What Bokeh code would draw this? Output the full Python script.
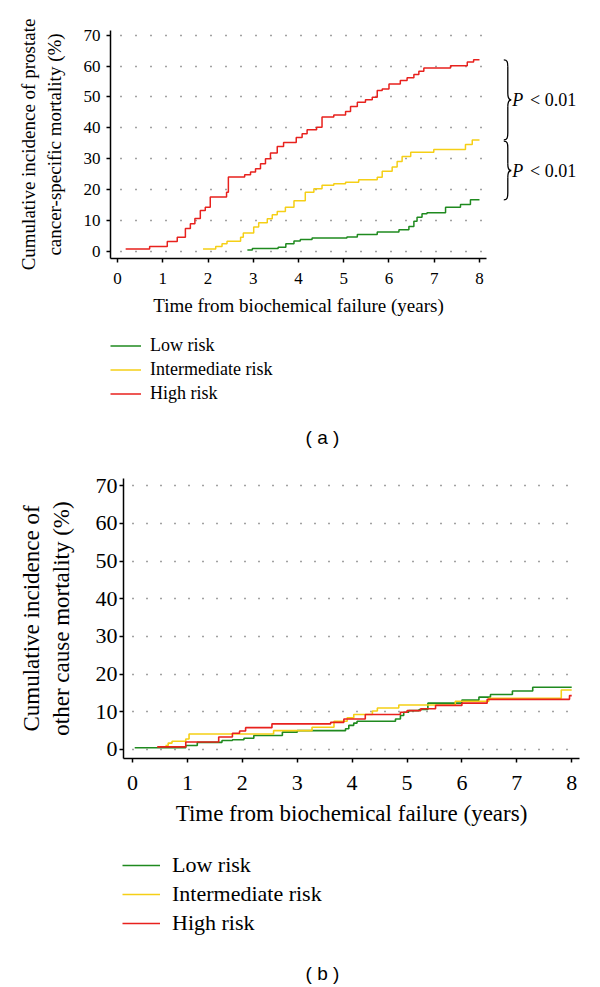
from bokeh.plotting import figure
from bokeh.layouts import column, row
from bokeh.models import Legend, LegendItem, Label, FixedTicker, Range1d
from bokeh.embed import file_html
from bokeh.resources import INLINE

# ---------------- data ----------------
followup_end = 8.0
x_ticks = [0, 1, 2, 3, 4, 5, 6, 7, 8]
y_ticks = [0, 10, 20, 30, 40, 50, 60, 70]
series_names = ["Low risk", "Intermediate risk", "High risk"]
series_colors = ["#1f8a1f", "#f5cf16", "#e8211d"]

# Panel (a): prostate cancer-specific mortality (%), step times (years) and values
a_low_t = [2.87, 2.98, 3.55, 3.72, 3.90, 4.04, 4.30, 5.07, 5.30, 5.74, 6.22, 6.44, 6.55, 6.62, 6.73, 6.84, 7.25, 7.58, 7.80]
a_low_v = [0.5, 1.0, 1.4, 2.5, 3.4, 3.9, 4.4, 4.7, 5.5, 6.3, 7.0, 8.1, 9.8, 11.1, 12.2, 12.5, 14.3, 15.2, 16.7]
a_int_t = [1.89, 2.17, 2.31, 2.42, 2.72, 2.78, 3.01, 3.12, 3.31, 3.42, 3.53, 3.71, 3.90, 4.15, 4.34, 4.52, 4.78, 5.04, 5.33, 5.74, 5.85, 6.07, 6.18, 6.29, 6.48, 6.99, 7.69, 7.84]
a_int_v = [0.8, 1.6, 2.5, 3.3, 4.6, 6.0, 7.9, 9.3, 10.6, 11.9, 12.9, 14.3, 16.4, 19.2, 20.3, 21.4, 21.9, 22.4, 23.2, 24.0, 26.0, 27.3, 29.1, 30.7, 32.1, 33.0, 34.6, 36.1]
a_high_t = [0.18, 0.71, 1.10, 1.32, 1.50, 1.61, 1.71, 1.83, 1.94, 2.05, 2.41, 2.45, 2.81, 2.94, 3.05, 3.16, 3.27, 3.38, 3.53, 3.67, 3.95, 4.08, 4.19, 4.40, 4.52, 4.78, 5.04, 5.15, 5.30, 5.48, 5.63, 5.74, 5.85, 6.00, 6.25, 6.40, 6.55, 6.66, 6.77, 7.36, 7.73, 7.87]
a_high_v = [0.8, 1.6, 3.2, 4.6, 7.4, 9.0, 10.7, 13.3, 14.3, 17.6, 19.2, 24.1, 24.8, 25.7, 26.8, 28.4, 30.0, 31.9, 34.0, 35.3, 36.9, 38.1, 39.4, 40.2, 43.5, 44.2, 45.3, 46.9, 48.3, 49.1, 49.9, 52.1, 52.6, 54.2, 55.3, 56.2, 57.3, 58.3, 59.4, 60.1, 61.3, 62.0]

# Panel (b): other cause mortality (%)
b_low_t = [0.04, 0.97, 1.18, 1.63, 1.82, 2.03, 2.21, 2.73, 3.00, 3.88, 3.94, 4.03, 4.09, 4.79, 4.88, 4.94, 5.03, 5.22, 5.38, 6.00, 6.31, 6.52, 6.92, 7.29]
b_low_v = [0.45, 1.06, 1.9, 2.4, 2.6, 3.0, 3.7, 4.6, 5.0, 5.5, 6.4, 7.0, 7.5, 8.1, 9.0, 9.9, 10.3, 10.6, 12.3, 13.1, 13.9, 14.6, 15.5, 16.5]
b_int_t = [0.60, 0.65, 0.72, 0.97, 1.03, 2.57, 3.27, 3.67, 3.91, 4.03, 4.37, 4.46, 4.85, 5.88, 6.49, 7.81]
b_int_v = [1.06, 1.7, 2.2, 2.8, 4.1, 5.0, 5.9, 7.5, 8.4, 9.3, 10.2, 11.0, 11.8, 12.8, 13.6, 15.8]
b_high_t = [0.45, 0.97, 1.57, 1.82, 1.95, 2.06, 2.54, 3.61, 3.85, 4.24, 4.88, 5.00, 5.25, 5.52, 6.00, 6.46, 7.96]
b_high_v = [0.7, 2.0, 3.3, 4.3, 4.9, 5.8, 6.8, 7.2, 8.1, 9.3, 9.9, 10.3, 10.8, 11.7, 12.3, 13.3, 14.3]

p_value_text = "< 0.01"

SERIF = "Liberation Serif"
SANS = "Liberation Sans"
NAN = float("nan")


def style_axes(p, tick_size, label_size, x_tick_standoff, y_tick_standoff, x_label_standoff, y_label_standoff):
    p.outline_line_color = None
    p.background_fill_color = "white"
    p.border_fill_color = "white"
    p.xgrid.visible = False
    p.ygrid.grid_line_color = "#444444"
    p.ygrid.grid_line_width = 1.5
    p.ygrid.grid_line_dash = "1 14"
    p.ygrid.grid_line_dash_offset = 5
    p.xaxis.ticker = FixedTicker(ticks=x_ticks)
    p.yaxis.ticker = FixedTicker(ticks=y_ticks)
    for ax in (p.xaxis[0], p.yaxis[0]):
        ax.axis_line_color = "black"
        ax.axis_line_width = 1.5
        ax.major_tick_line_color = "black"
        ax.major_tick_line_width = 1.5
        ax.major_tick_in = 0
        ax.major_tick_out = 4
        ax.minor_tick_line_color = None
        ax.major_label_text_font = SERIF
        ax.major_label_text_font_size = tick_size
        ax.major_label_text_color = "black"
        ax.axis_label_text_font = SERIF
        ax.axis_label_text_font_size = label_size
        ax.axis_label_text_font_style = "normal"
        ax.axis_label_text_color = "black"
    p.xaxis.major_label_standoff = x_tick_standoff
    p.yaxis.major_label_standoff = y_tick_standoff
    p.xaxis.axis_label_standoff = x_label_standoff
    p.yaxis.axis_label_standoff = y_label_standoff


def add_curves(p, ts, vs, width):
    rends = []
    for t, v, c in zip(ts, vs, series_colors):
        r = p.step(t + [followup_end], v + [v[-1]], mode="after", line_color=c, line_width=width)
        rends.append(r)
    return rends


def key_figure(height, line_width, legend_x, legend_y, font_size, gw, gh, spacing, standoff,
               caption, cap_x, cap_y):
    """Strip under a panel holding the key and the panel caption (pixel-scaled ranges)."""
    f = figure(width=600, height=height, x_range=Range1d(0, 600), y_range=Range1d(0, height),
               min_border=0, x_axis_location=None, y_axis_location=None,
               toolbar_location=None, output_backend="svg")
    f.outline_line_color = None
    f.xgrid.visible = False
    f.ygrid.visible = False
    # key-only renderers (no visible points), styled like the curves
    keys = [f.line(x=[NAN], y=[NAN], line_color=c, line_width=line_width) for c in series_colors]
    items = [LegendItem(label=n, renderers=[r]) for n, r in zip(series_names, keys)]
    lg = Legend(items=items, location=(legend_x, legend_y), orientation="vertical",
                label_text_font=SERIF, label_text_font_size=font_size, label_text_color="black",
                glyph_width=gw, glyph_height=gh, label_height=gh, spacing=spacing,
                label_standoff=standoff, padding=0, margin=0,
                border_line_color=None, background_fill_alpha=0)
    f.add_layout(lg)
    f.add_layout(Label(x=cap_x, y=cap_y, text=caption, text_align="center", text_baseline="middle",
                       text_font=SANS, text_font_size="19px", text_color="black"))
    return f


# ---------------- panel (a) ----------------
yr_a = Range1d(-2.27, 71.5)
pa = figure(width=495, height=325, x_range=Range1d(-0.155, 8.155), y_range=yr_a,
            min_border_left=110, min_border_right=9, min_border_top=30, min_border_bottom=67,
            toolbar_location=None, output_backend="svg")
pa.xaxis.axis_label = "Time from biochemical failure (years)"
pa.yaxis.axis_label = "Cumulative incidence of prostate\ncancer-specific mortality (%)"
style_axes(pa, "17px", "19px", 10, 6, 8, 16)
add_curves(pa, [a_low_t, a_int_t, a_high_t], [a_low_v, a_int_v, a_high_v], 1.5)

# braces with P values (share y scale with panel a)
pb = figure(width=105, height=325, x_range=Range1d(0, 105), y_range=yr_a,
            min_border_left=0, min_border_right=0, min_border_top=30, min_border_bottom=67,
            x_axis_location=None, y_axis_location=None,
            toolbar_location=None, output_backend="svg")
pb.outline_line_color = None
pb.xgrid.visible = False
pb.ygrid.visible = False

ends = [a_high_v[-1], a_int_v[-1], a_low_v[-1]]
xl, xs, xt = 8.3, 12.3, 15.7
d = 2.2
for y_top, y_bot in [(ends[0], ends[1]), (ends[1] - 0.4, ends[2])]:
    ym = (y_top + y_bot) / 2
    pb.bezier(x0=[xl, xs, xt, xs], y0=[y_top, ym + d, ym, y_bot + d],
              x1=[xs, xt, xs, xl], y1=[y_top - d, ym, ym - d, y_bot],
              cx0=[xs - 0.6, xs, xs + 1.2, xs], cy0=[y_top, ym + 0.3 * d, ym, y_bot + 0.3 * d],
              cx1=[xs, xs + 1.2, xs, xs - 0.6], cy1=[y_top - 0.3 * d, ym, ym - 0.3 * d, y_bot],
              line_color="black", line_width=1.3)
    pb.segment(x0=[xs, xs], y0=[y_top - d, ym - d], x1=[xs, xs], y1=[ym + d, y_bot + d],
               line_color="black", line_width=1.3)
    pb.add_layout(Label(x=16.8, y=ym, text="P", text_font=SERIF, text_font_style="italic",
                        text_font_size="18px", text_baseline="middle", text_color="black"))
    pb.add_layout(Label(x=34.5, y=ym, text=p_value_text, text_font=SERIF,
                        text_font_size="18px", text_baseline="middle", text_color="black"))

ka = key_figure(135, 1.5, 110, 56.5, "18px", 31, 21, 3, 9, "( a )", 322, 23)

# ---------------- panel (b) ----------------
pc = figure(width=600, height=383, x_range=Range1d(-0.164, 8.142), y_range=Range1d(-2.39, 71.9),
            min_border_left=123, min_border_right=21, min_border_top=18, min_border_bottom=85,
            toolbar_location=None, output_backend="svg")
pc.xaxis.axis_label = "Time from biochemical failure (years)"
pc.yaxis.axis_label = "Cumulative incidence of\nother cause mortality (%)"
style_axes(pc, "22px", "23px", 13, 2, 8, 19)
pc.ygrid.grid_line_dash = "1 13"
add_curves(pc, [b_low_t, b_int_t, b_high_t], [b_low_v, b_int_v, b_high_v], 1.6)

kb = key_figure(144, 1.6, 122, 51, "22px", 38, 26, 3, 12, "( b )", 322, 14)

layout = column(row(pa, pb), ka, row(pc), kb)
open("out.html", "w").write(file_html(layout, INLINE))
